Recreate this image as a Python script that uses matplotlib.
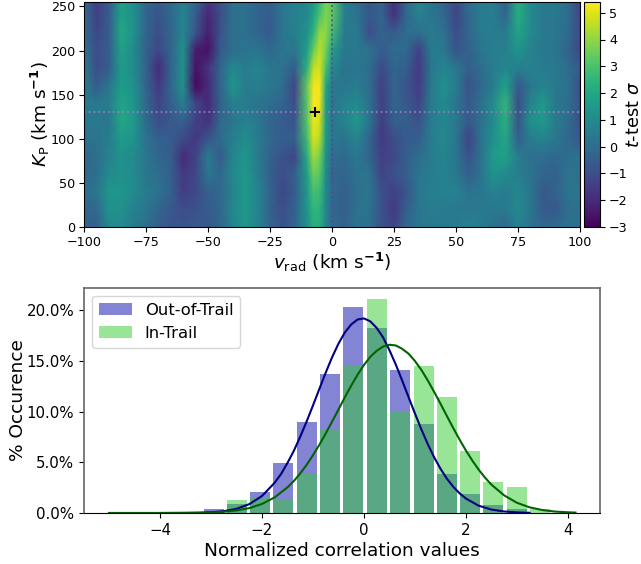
import numpy as np
import matplotlib
matplotlib.use("Agg")
import matplotlib.pyplot as plt
from matplotlib.ticker import PercentFormatter

# Heat-map values (columns: v_rad, rows: K_P)
v_rad = [-100,-95,-90,-85,-80,-75,-70,-65,-60,-55,-50,-45,-40,-35,-30,-25,-20,-15,-10,-7.5,-5,-2.5,0,5,10,15,20,25,30,35,40,45,50,55,60,65,70,75,80,85,90,95,100]
k_p = list(range(0, 261, 20))
k000 = [-0.3,-0.5,1.0,1.0,0.5,0.0,-0.5,-0.8,-0.8,-0.7,-0.7,-0.3,0.8,1.4,0.7,-0.3,-0.8,-0.3,1.2,2.3,2.2,0.8,0.0,-0.4,0.2,0.0,-0.9,-1.3,-0.2,0.3,0.4,0.4,0.5,0.7,0.5,0.1,-0.2,0.6,0.2,-0.3,-0.1,0.1,0.2]
k020 = [-0.3,-0.2,1.2,1.2,0.7,0.3,-0.3,-0.7,-1.0,-0.9,-0.6,-0.2,0.9,1.5,0.8,-0.4,-1.0,-0.4,1.4,2.5,2.4,0.9,-0.2,-0.5,0.2,0.2,-0.9,-1.6,-0.5,0.3,0.5,0.5,0.4,0.4,0.4,0.4,0.4,1.0,0.3,-0.6,-0.7,0.0,0.2]
k040 = [0.0,0.3,1.4,1.4,1.0,0.5,0.2,-0.4,-1.5,-1.1,-0.5,-0.2,0.8,1.5,0.8,-0.3,-1.2,-0.6,1.5,2.9,2.7,1.0,-0.1,-0.5,0.0,0.3,-0.9,-1.4,-0.8,0.3,0.6,0.7,0.7,0.2,0.3,0.7,0.5,0.9,0.3,-0.7,-0.4,0.2,0.3]
k060 = [-0.1,0.0,1.0,1.3,1.0,0.3,0.0,-0.5,-1.6,-1.2,0.3,-0.2,0.9,1.5,0.6,-0.5,-1.0,-0.5,1.7,3.5,3.2,1.1,-0.2,-0.3,0.2,0.2,-1.3,-0.9,-0.5,0.3,0.5,0.7,0.4,-0.5,0.2,1.3,1.0,0.6,0.2,-0.3,-0.4,0.2,0.1]
k080 = [-0.2,0.0,0.7,1.2,1.0,0.3,-0.3,-0.5,-2.0,-1.3,0.5,-0.6,0.8,1.4,0.5,-0.4,-0.9,-1.2,2.2,4.2,3.6,1.2,0.0,-0.1,0.4,-0.3,-1.4,-1.1,-0.5,0.0,0.5,0.8,0.3,-0.9,0.1,1.6,1.8,0.5,0.1,0.0,-0.2,0.0,0.2]
k100 = [0.2,0.2,0.5,1.6,1.3,0.2,-0.4,-0.6,-1.1,-1.6,-0.8,-0.1,0.6,1.1,0.5,-0.2,-0.5,-0.5,2.8,4.9,4.4,1.5,0.4,0.2,0.8,-0.3,-1.6,-1.0,-0.6,-0.5,0.5,1.0,0.3,-1.3,0.2,1.2,2.0,-0.5,0.5,0.8,0.4,-0.2,-0.7]
k120 = [0.3,0.4,0.3,2.0,1.5,-0.1,-1.0,-0.7,-0.4,-1.4,-1.8,-0.2,0.3,0.7,0.4,-0.3,-0.6,-0.8,3.2,5.2,4.8,1.6,0.3,0.8,1.5,0.3,-1.5,-0.5,-0.5,-0.9,0.5,0.9,0.4,-0.7,0.1,1.0,2.3,-0.8,1.2,1.5,0.5,0.0,-1.0]
k140 = [0.4,0.4,0.5,1.9,1.4,-0.2,-1.3,-0.5,0.6,-1.2,-2.0,-0.4,0.6,0.5,0.2,0.0,-0.3,-1.0,3.2,5.3,5.2,1.8,0.3,0.7,1.0,0.2,-1.4,-0.3,-0.7,-1.3,0.5,1.0,0.3,-0.7,0.1,1.0,2.5,-1.0,0.8,1.5,0.4,0.0,-0.9]
k160 = [0.5,-0.6,0.3,1.6,1.2,-0.3,-1.6,-0.2,1.2,-2.8,-2.0,-0.3,1.4,0.5,0.6,0.3,0.0,-1.2,3.4,5.2,5.3,2.0,0.4,0.3,0.5,0.0,-1.4,-0.3,-0.8,-1.5,0.4,1.2,0.5,-0.9,-0.2,0.5,1.8,-0.7,0.3,0.8,0.4,0.1,-1.0]
k180 = [0.6,-1.0,-0.6,1.6,1.0,-0.3,-2.0,-0.4,1.3,-2.6,-1.8,-0.3,1.0,0.5,0.8,0.3,0.2,-0.6,2.4,4.6,4.9,3.0,1.0,0.2,0.3,0.0,-1.1,-0.3,-0.5,-1.6,0.3,0.8,0.4,-0.5,0.0,0.5,0.9,0.6,0.7,0.5,0.4,0.0,-0.6]
k200 = [0.2,-1.0,-0.5,1.8,1.0,-0.4,-1.2,-0.3,1.2,-2.4,-2.6,-0.6,0.0,0.2,0.3,-0.2,0.3,0.3,1.7,3.4,4.6,3.6,1.7,0.3,0.4,0.2,-0.6,0.0,-0.2,-1.4,0.5,0.4,-0.8,-0.4,0.3,0.6,0.6,1.3,0.7,0.4,0.3,-0.3,-1.2]
k220 = [0.0,-1.2,-0.6,2.0,1.2,-0.3,-1.0,-0.3,0.9,-0.8,-2.3,-0.9,0.1,0.1,-0.3,-0.6,0.3,0.6,1.3,2.4,4.0,4.0,2.8,0.4,0.5,-1.0,-0.3,-0.6,0.0,0.0,0.4,0.2,-1.0,-0.3,0.5,0.5,0.5,1.9,1.0,0.4,0.3,-0.1,-1.1]
k240 = [0.0,-1.4,-0.6,1.8,1.2,-0.3,-0.8,-0.2,0.8,-0.6,-2.1,-1.0,0.1,0.1,-0.3,-0.6,0.3,0.7,1.0,1.8,3.0,3.8,3.3,0.6,0.2,-0.7,-0.3,-1.8,-0.2,0.7,0.3,-0.2,-1.2,-0.2,0.5,0.6,-0.3,2.2,1.0,0.4,0.4,0.0,-1.2]
k260 = [0.0,-1.5,-0.6,1.6,1.1,-0.2,-0.6,-0.2,0.6,-0.2,-1.5,-0.9,0.1,0.2,-0.3,-0.5,0.4,0.6,0.9,1.5,2.4,3.6,3.3,0.7,0.0,-0.8,-0.3,-1.9,-0.2,0.9,0.3,-0.4,-1.1,0.0,0.5,0.5,-0.5,2.2,1.0,0.4,0.4,0.0,-1.3]
heat_rows = [k000,k020,k040,k060,k080,k100,k120,k140,k160,k180,k200,k220,k240,k260]

best_v = -7
best_k = 130

# Histogram values in percent
bin_centres = [-4.78,-4.32,-3.86,-3.40,-2.95,-2.49,-2.03,-1.58,-1.12,-0.66,-0.21,0.25,0.71,1.17,1.62,2.08,2.54,3.00,3.46]
out_of_trail = [0.02,0.03,0.03,0.05,0.39,0.89,2.1,4.95,9.0,13.76,20.3,18.3,14.1,8.8,3.87,1.9,0.82,0.43,0.02]
in_trail = [0.05,0.02,0.02,0.05,0.05,1.28,1.5,1.28,3.95,8.3,14.5,21.1,10.1,14.5,11.4,6.14,3.05,2.6,0.39]

# Fitted curves
curve_x_out = [-5,-4,-3.5,-3.25,-3,-2.75,-2.5,-2.25,-2,-1.75,-1.625,-1.5,-1.375,-1.25,-1.125,-1,-0.875,-0.75,-0.625,-0.5,-0.375,-0.25,-0.125,0,0.125,0.25,0.375,0.5,0.625,0.75,0.875,1,1.125,1.25,1.375,1.5,1.625,1.75,1.875,2,2.25,2.5,2.75,3,3.25]
curve_y_out = [0,0,0.01,0.03,0.07,0.18,0.41,0.87,1.67,2.99,3.85,4.93,6.13,7.52,9.01,10.6,12.23,13.84,15.36,16.7,17.81,18.6,19.09,19.2,18.91,18.26,17.33,16.07,14.65,13.07,11.44,9.83,8.27,6.82,5.52,4.38,3.4,2.6,1.95,1.43,0.72,0.34,0.15,0.06,0.02]
curve_x_in = [-5,-4,-3.5,-3.25,-3,-2.75,-2.5,-2.25,-2,-1.75,-1.5,-1.375,-1.25,-1.125,-1,-0.875,-0.75,-0.625,-0.5,-0.375,-0.25,-0.125,0,0.125,0.25,0.375,0.5,0.625,0.75,0.875,1,1.125,1.25,1.375,1.5,1.625,1.75,1.875,2,2.125,2.25,2.375,2.5,2.75,3,3.25,3.5,3.75,4,4.15]
curve_y_in = [0,0,0.01,0.02,0.05,0.12,0.25,0.48,0.89,1.54,2.53,3.15,3.9,4.74,5.7,6.72,7.84,9.01,10.2,11.41,12.56,13.64,14.6,15.41,16.0,16.42,16.6,16.53,16.2,15.72,15.0,14.13,13.1,11.97,10.8,9.59,8.4,7.25,6.17,5.18,4.28,3.49,2.8,1.74,1.01,0.56,0.29,0.14,0.07,0.04]

W, H = 641, 564
fig = plt.figure(figsize=(W/100, H/100), dpi=100)

def rect(l, t, r, b):
    return [l/W, 1-b/H, (r-l)/W, (b-t)/H]

ax = fig.add_axes(rect(84, 2, 580, 227))
im = ax.pcolormesh(v_rad, k_p, np.array(heat_rows), cmap='viridis', vmin=-3, vmax=5.4,
                   shading='gouraud', rasterized=True)
ax.set_xlim(-100, 100)
ax.set_ylim(0, 255)
ax.axvline(0, color='#6a3d9a', ls=':', lw=1.3, alpha=0.9)
ax.axhline(best_k, color='#9a7fc0', ls=':', lw=1.3, alpha=0.9)
ax.plot([best_v], [best_k], marker='+', color='black', ms=6.5, mew=1.5)
ax.set_xticks([-100,-75,-50,-25,0,25,50,75,100])
ax.set_yticks([0,50,100,150,200,250])
ax.tick_params(labelsize=9.2, length=3.5, pad=3)
ax.set_xlabel(r'$v_{\mathrm{rad}}$ (km s$^{\mathbf{-1}}$)', fontsize=13.3, labelpad=1)
ax.set_ylabel(r'$K_{\mathrm{P}}$ (km s$^{\mathbf{-1}}$)', fontsize=13.3, labelpad=-1)

cax = fig.add_axes(rect(584, 2, 600, 227))
cb = fig.colorbar(im, cax=cax)
cb.set_ticks([-3,-2,-1,0,1,2,3,4,5])
cax.tick_params(labelsize=9.2, length=3.5, pad=3)
cb.set_label(r'$t$-test $\sigma$', fontsize=12.8, labelpad=-2)

ax2 = fig.add_axes(rect(84, 288, 600, 513))
ax2.bar(bin_centres, out_of_trail, width=0.392, color='#0a0aad', alpha=0.5, label='Out-of-Trail')
ax2.bar(bin_centres, in_trail, width=0.392, color='limegreen', alpha=0.5, label='In-Trail')
ax2.plot(curve_x_out, curve_y_out, color='navy', lw=1.5)
ax2.plot(curve_x_in, curve_y_in, color='darkgreen', lw=1.5)
ax2.set_xlim(-5.49, 4.63)
ax2.set_ylim(0, 22.2)
ax2.set_xticks([-4,-2,0,2,4])
ax2.set_yticks([0,5,10,15,20])
ax2.yaxis.set_major_formatter(PercentFormatter(100, decimals=1))
ax2.tick_params(labelsize=10.8, length=3.5)
ax2.set_xlabel('Normalized correlation values', fontsize=13.3, labelpad=3)
ax2.set_ylabel('% Occurence', fontsize=13.3, labelpad=0)
ax2.legend(loc='upper left', fontsize=11.8)
for s in ('left', 'top', 'right'):
    ax2.spines[s].set_color('#666666')
    ax2.spines[s].set_linewidth(1.2)

fig.savefig('out.png', dpi=100)
